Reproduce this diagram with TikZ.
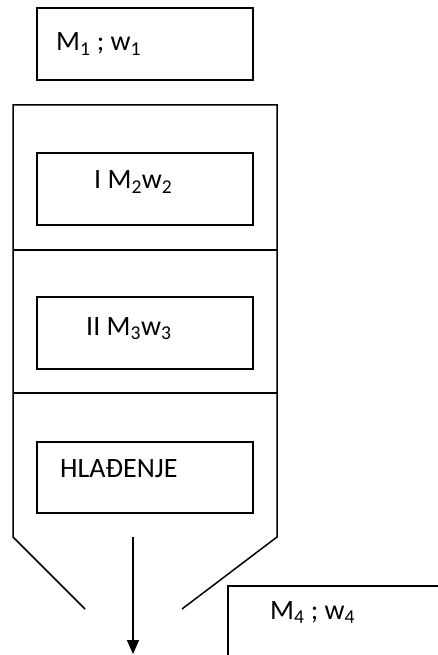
\documentclass[tikz,border=0pt]{standalone}
\usepackage{fontspec}
\setmainfont{Carlito}
\usetikzlibrary{arrows.meta}
\begin{document}
\begin{tikzpicture}[x=1pt,y=-1pt,
  box/.style={draw,line width=1.5pt,rectangle,inner sep=0pt},
  wall/.style={line width=1.5pt},
  lbl/.style={anchor=base west,inner sep=0pt,font=\fontsize{28}{31}\selectfont}]
\useasboundingbox (0,0) rectangle (438,655);
\clip (0,0) rectangle (438,655);
% top box
\draw[box] (37,8) rectangle (253,80);
\node[lbl] (t1) at (56,51) {M\textsubscript{1} ; w\textsubscript{1}};
% column
\coordinate (tl) at (13,105);
\coordinate (tr) at (277,105);
\coordinate (bl) at (13,537);
\coordinate (br) at (277,537);
\coordinate (dl) at (85,609);
\coordinate (dr) at (182,609);
\draw[wall] (dl) -- (bl) -- (tl) -- (tr) -- (br) -- (dr);
\draw[wall] (13,250) -- (277,250);
\draw[wall] (13,393) -- (277,393);
% inner boxes
\draw[box] (37,153) rectangle (253,225);
\node[lbl] (t2) at (94,189) {I M\textsubscript{2}w\textsubscript{2}};
\draw[box] (37,297) rectangle (253,369);
\node[lbl] (t3) at (86,335) {II M\textsubscript{3}w\textsubscript{3}};
\draw[box] (37,442) rectangle (253,513);
\node[lbl] (t4) at (60,477) {HLAĐENJE};
% arrow
\coordinate (a1) at (133,537);
\coordinate (a2) at (133,654);
\draw[line width=1.5pt,-{Triangle[length=14pt,width=12pt]}] (a1) -- (a2);
% bottom right box (clipped)
\draw[box] (228,586) rectangle (460,680);
\node[lbl] (t5) at (270,619) {M\textsubscript{4} ; w\textsubscript{4}};
\end{tikzpicture}
\end{document}
